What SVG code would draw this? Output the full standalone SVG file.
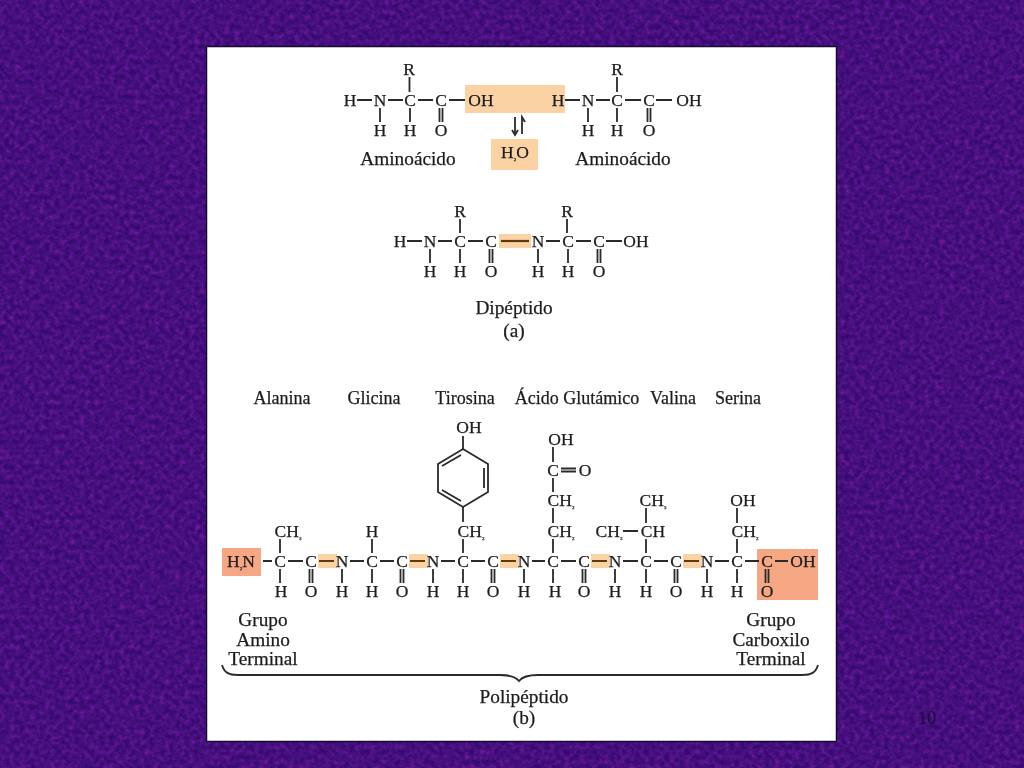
<svg xmlns="http://www.w3.org/2000/svg" width="1024" height="768" viewBox="0 0 1024 768">
<style>
text{font-family:"Liberation Serif","Times New Roman",serif;fill:#1c1c1c;text-anchor:middle;stroke:#1c1c1c;stroke-width:0.25}
.a{font-size:17.500px}
.l{font-size:19.300px}
.r{font-size:18px}
.s{font-size:5px}
.b{fill:none;stroke:#2a2a2a;stroke-width:1.800}
.p{fill:none;stroke:#5a3a10;stroke-width:2.200}
.h1{fill:#fad2a4}
.h2{fill:#f5a783}
</style>
<defs>
<filter id="tex" x="0" y="0" width="100%" height="100%">
<feTurbulence type="fractalNoise" baseFrequency="0.2" numOctaves="3" seed="7"/>
<feColorMatrix type="matrix" values="0.55 0 0 0 -0.12  0 0 0 0 0.02  0.45 0 0 0 0.22  1.4 0 0 0 -0.25"/>
</filter>
<filter id="soft"><feGaussianBlur stdDeviation="0.4"/></filter>
</defs>
<rect width="1024" height="768" fill="#38086c"/>
<rect width="1024" height="768" filter="url(#tex)" opacity="0.55"/>
<rect x="206.500" y="46.500" width="630" height="695" fill="#fff" stroke="#170a30" stroke-width="1.500"/>
<text x="927" y="724" style="font-size:18px;fill:#1e0c3c;stroke:none">10</text>
<g filter="url(#soft)">
<g id="highlights">
<rect class="h1" x="465" y="85" width="100" height="28"/>
<rect class="h1" x="491" y="139" width="47" height="31"/>
<rect class="h1" x="499" y="234" width="32" height="14"/>
<rect class="h2" x="222" y="548" width="39" height="28"/>
<rect class="h2" x="757" y="549" width="61" height="51"/>
<rect class="h1" x="318" y="554" width="19" height="14"/>
<rect class="h1" x="409" y="554" width="19" height="14"/>
<rect class="h1" x="500" y="554" width="19" height="14"/>
<rect class="h1" x="591" y="554" width="19" height="14"/>
<rect class="h1" x="683" y="554" width="19" height="14"/>
</g>
<g id="connectors">
<path class="b" d="M357 100H372M388 100H403M418 100H433M449 100H465M409.500 77V92M380 108V122M410 108V122M439.500 108V122M442.500 108V122M565 100H580M596 100H610M625 100H641M656 100H672M617 77V92M588 108V122M617 108V122M647.500 108V122M650.500 108V122"/>
<path class="b" d="M515 117V134M512 130L515 135L518 130M522 134V117L525 122"/>
<path class="b" d="M407 241H422M438 241H452M468 241H483M546 241H560M576 241H591M606 241H622M460 219V233M567 219V233M430 249V263M460 249V263M489.500 249V263M492.500 249V263M538 249V263M568 249V263M597.500 249V263M600.500 249V263"/>
<path class="p" d="M501 241H529"/>
<path class="b" d="M263 561H272M288 561H303M350 561H364M380 561H394M441 561H455M471 561H485M532 561H545M561 561H576M623 561H638M654 561H668M715 561H729M745 561H759M775 561H788"/>
<path class="p" d="M319 561H334M410 561H425M501 561H516M592 561H607M684 561H699"/>
<path class="b" d="M280 569V583M309.500 569V583M312.500 569V583M342 569V583M372 569V583M400.500 569V583M403.500 569V583M433 569V583M463 569V583M491.500 569V583M494.500 569V583M524 569V583M553 569V583M582.500 569V583M585.500 569V583M615 569V583M646 569V583M674.500 569V583M677.500 569V583M707 569V583M737 569V583M765.500 569V583M768.500 569V583"/>
<path class="b" d="M280 539V553M372 539V553M463 539V553M553 539V553M646 539V553M737 539V553M553 508V523M646 508V523M737 508V523M623 531H638M553 478V492M553 447V462M561 468.500H576M561 471.500H576M463 507V522M463 436V449"/>
<path class="b" d="M463 449L488 464V492L463 507L438 492V464ZM484 468V488M461 455L442 466M461 501L442 490"/>
<path class="b" d="M222 665C224 672 228 675 238 675H500C510 675 516 677 519 681C522 677 528 675 538 675H802C812 675 816 672 818 665"/>
</g>
<g id="aminoacid-1">
<text class="a" x="350" y="106">H</text><text class="a" x="380" y="106">N</text><text class="a" x="410" y="106">C</text><text class="a" x="441" y="106">C</text><text class="a" x="481" y="106">OH</text>
<text class="a" x="409" y="75">R</text><text class="a" x="380" y="136">H</text><text class="a" x="410" y="136">H</text><text class="a" x="441" y="136">O</text>
<text class="l" x="408" y="165">Aminoácido</text>
</g>
<g id="water">
<text class="a" x="515" y="158">H<tspan class="s" dy="3">2</tspan><tspan dy="-3">O</tspan></text>
</g>
<g id="aminoacid-2">
<text class="a" x="558" y="106">H</text><text class="a" x="588" y="106">N</text><text class="a" x="617" y="106">C</text><text class="a" x="649" y="106">C</text><text class="a" x="689" y="106">OH</text>
<text class="a" x="617" y="75">R</text><text class="a" x="588" y="136">H</text><text class="a" x="617" y="136">H</text><text class="a" x="649" y="136">O</text>
<text class="l" x="623" y="165">Aminoácido</text>
</g>
<g id="dipeptide">
<text class="a" x="400" y="247">H</text><text class="a" x="430" y="247">N</text><text class="a" x="460" y="247">C</text><text class="a" x="491" y="247">C</text><text class="a" x="538" y="247">N</text><text class="a" x="568" y="247">C</text><text class="a" x="599" y="247">C</text><text class="a" x="636" y="247">OH</text>
<text class="a" x="460" y="217">R</text><text class="a" x="567" y="217">R</text>
<text class="a" x="430" y="277">H</text><text class="a" x="460" y="277">H</text><text class="a" x="491" y="277">O</text><text class="a" x="538" y="277">H</text><text class="a" x="568" y="277">H</text><text class="a" x="599" y="277">O</text>
<text class="l" x="514" y="314">Dipéptido</text><text class="l" x="514" y="337">(a)</text>
</g>
<g id="residue-names">
<text class="r" x="282" y="404">Alanina</text><text class="r" x="374" y="404">Glicina</text><text class="r" x="465" y="404">Tirosina</text><text class="r" x="577" y="404">Ácido Glutámico</text><text class="r" x="673" y="404">Valina</text><text class="r" x="738" y="404">Serina</text>
</g>
<g id="polypeptide">
<text class="a" x="241" y="567">H<tspan class="s" dy="3">2</tspan><tspan dy="-3">N</tspan></text>
<text class="a" x="280" y="567">C</text><text class="a" x="311" y="567">C</text><text class="a" x="342" y="567">N</text><text class="a" x="372" y="567">C</text><text class="a" x="402" y="567">C</text><text class="a" x="433" y="567">N</text><text class="a" x="463" y="567">C</text><text class="a" x="493" y="567">C</text><text class="a" x="524" y="567">N</text><text class="a" x="553" y="567">C</text><text class="a" x="584" y="567">C</text><text class="a" x="615" y="567">N</text><text class="a" x="646" y="567">C</text><text class="a" x="676" y="567">C</text><text class="a" x="707" y="567">N</text><text class="a" x="737" y="567">C</text><text class="a" x="767" y="567">C</text><text class="a" x="803" y="567">OH</text>
<text class="a" x="281" y="597">H</text><text class="a" x="311" y="597">O</text><text class="a" x="342" y="597">H</text><text class="a" x="372" y="597">H</text><text class="a" x="402" y="597">O</text><text class="a" x="433" y="597">H</text><text class="a" x="463" y="597">H</text><text class="a" x="493" y="597">O</text><text class="a" x="524" y="597">H</text><text class="a" x="555" y="597">H</text><text class="a" x="584" y="597">O</text><text class="a" x="615" y="597">H</text><text class="a" x="646" y="597">H</text><text class="a" x="676" y="597">O</text><text class="a" x="707" y="597">H</text><text class="a" x="737" y="597">H</text><text class="a" x="767" y="597">O</text>
<text class="a" x="288" y="537">CH<tspan class="s" dy="3">3</tspan></text>
<text class="a" x="372" y="537">H</text>
<text class="a" x="471" y="537">CH<tspan class="s" dy="3">2</tspan></text>
<text class="a" x="469" y="433">OH</text>
<text class="a" x="561" y="445">OH</text><text class="a" x="553" y="476">C</text><text class="a" x="585" y="476">O</text>
<text class="a" x="561" y="506">CH<tspan class="s" dy="3">2</tspan></text>
<text class="a" x="561" y="537">CH<tspan class="s" dy="3">2</tspan></text>
<text class="a" x="653" y="506">CH<tspan class="s" dy="3">3</tspan></text>
<text class="a" x="653" y="537">CH</text>
<text class="a" x="609" y="537">CH<tspan class="s" dy="3">3</tspan></text>
<text class="a" x="743" y="506">OH</text>
<text class="a" x="745" y="537">CH<tspan class="s" dy="3">2</tspan></text>
</g>
<g id="captions">
<text class="l" x="263" y="626">Grupo</text><text class="l" x="263" y="646">Amino</text><text class="l" x="263" y="665">Terminal</text>
<text class="l" x="771" y="626">Grupo</text><text class="l" x="771" y="646">Carboxilo</text><text class="l" x="771" y="665">Terminal</text>
<text class="l" x="524" y="703">Polipéptido</text><text class="l" x="524" y="724">(b)</text>
</g>
</g>
</svg>
